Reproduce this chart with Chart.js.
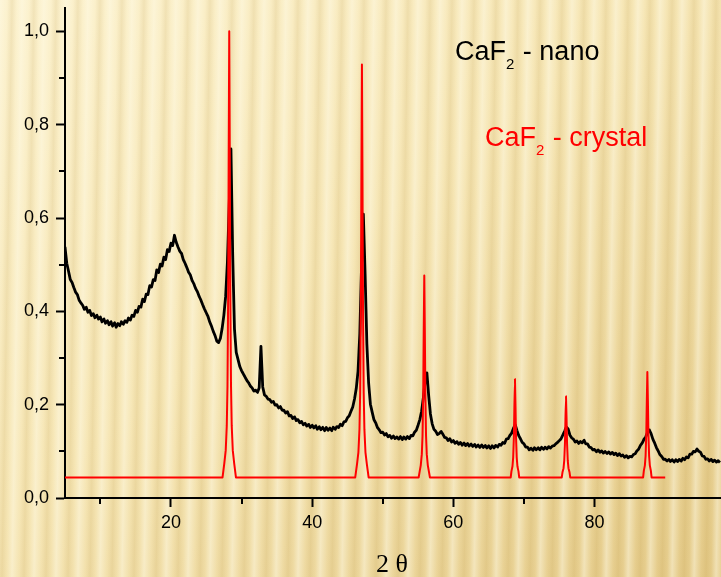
<!DOCTYPE html>
<html>
<head>
<meta charset="utf-8">
<title>CaF2 XRD</title>
<script src="https://cdn.jsdelivr.net/npm/chart.js@4.4.1/dist/chart.umd.min.js"></script>
<style>
    html, body {
        margin: 0;
        padding: 0;
        overflow: hidden;
    }
    #plot {
        position: relative;
        width: 721px;
        height: 577px;
        background:
            repeating-linear-gradient(91deg,
                rgba(255, 251, 232, 0.45) 0px,
                rgba(255, 251, 232, 0.0) 7px,
                rgba(170, 128, 35, 0.12) 12px,
                rgba(255, 251, 232, 0.0) 17px,
                rgba(255, 251, 232, 0.45) 22px),
            linear-gradient(to bottom right, #fcf2cf 0%, #f6e6b5 45%, #e4ca88 100%);
    }
    #plot canvas {
        position: absolute;
        left: 0;
        top: 0;
    }
    .label {
        position: absolute;
        font-family: Arial, "Liberation Sans", sans-serif;
        font-size: 27px;
        line-height: 1;
        white-space: nowrap;
    }
    .label sub {
        font-size: 15px;
        vertical-align: baseline;
        position: relative;
        top: 9px;
        margin-right: 1px;
    }
    #axis-title {
        position: absolute;
        left: 376px;
        top: 551px;
        font-family: "Liberation Serif", "Times New Roman", serif;
        font-size: 26px;
        line-height: 1;
        color: #000;
    }
</style>
</head>
<body>
<div id="plot">
    <canvas id="xrd" width="721" height="577"></canvas>
    <div class="label" style="left:455px; top:38px; color:#000;">CaF<sub>2</sub> - nano</div>
    <div class="label" style="left:485px; top:124px; color:#ff0000;">CaF<sub>2</sub> - crystal</div>
    <div id="axis-title">2 &theta;</div>
</div>
<script>
// nanocrystalline CaF2, measured on a 0.25 deg 2-theta grid starting at 5 deg
const nanoThetaStart = 5;
const nanoThetaStep = 0.25;
const nanoIntensity = [
    0.538, 0.503, 0.486, 0.468,   // 5
    0.462, 0.451, 0.441, 0.436,
    0.424, 0.418, 0.413, 0.404,
    0.409, 0.398, 0.402, 0.391,
    0.395, 0.386, 0.392, 0.383,
    0.388, 0.377, 0.384, 0.374,   // 10
    0.380, 0.371, 0.378, 0.368,
    0.376, 0.366, 0.374, 0.369,
    0.378, 0.372, 0.380, 0.376,
    0.386, 0.381, 0.392, 0.389,
    0.402, 0.398, 0.411, 0.409,   // 15
    0.426, 0.421, 0.437, 0.436,
    0.455, 0.452, 0.468, 0.466,
    0.489, 0.483, 0.501, 0.497,
    0.516, 0.511, 0.532, 0.528,
    0.546, 0.541, 0.563, 0.548,   // 20
    0.538, 0.529, 0.524, 0.511,
    0.503, 0.494, 0.484, 0.478,
    0.466, 0.459, 0.449, 0.442,
    0.432, 0.424, 0.414, 0.405,
    0.397, 0.389, 0.377, 0.368,   // 25
    0.357, 0.348, 0.336, 0.333,
    0.342, 0.363, 0.392, 0.432,
    0.505, 0.625, 0.748, 0.520,
    0.362, 0.312, 0.297, 0.282,
    0.273, 0.266, 0.259, 0.252,   // 30
    0.247, 0.240, 0.236, 0.229,
    0.231, 0.226, 0.236, 0.325,
    0.238, 0.221, 0.218, 0.212,
    0.211, 0.205, 0.207, 0.199,
    0.200, 0.193, 0.196, 0.188,   // 35
    0.188, 0.182, 0.185, 0.176,
    0.177, 0.170, 0.174, 0.166,
    0.168, 0.161, 0.164, 0.157,
    0.160, 0.154, 0.158, 0.151,
    0.156, 0.150, 0.155, 0.147,   // 40
    0.153, 0.146, 0.152, 0.144,
    0.151, 0.145, 0.150, 0.144,
    0.152, 0.147, 0.153, 0.151,
    0.158, 0.155, 0.163, 0.164,
    0.172, 0.176, 0.186, 0.195,   // 45
    0.212, 0.235, 0.272, 0.352,
    0.500, 0.608, 0.480, 0.330,
    0.246, 0.201, 0.184, 0.168,
    0.161, 0.151, 0.146, 0.140,
    0.141, 0.135, 0.138, 0.131,   // 50
    0.134, 0.128, 0.133, 0.127,
    0.131, 0.126, 0.132, 0.125,
    0.131, 0.126, 0.132, 0.127,
    0.134, 0.133, 0.141, 0.145,
    0.156, 0.168, 0.186, 0.215,   // 55
    0.250, 0.268, 0.220, 0.180,
    0.159, 0.147, 0.143, 0.136,
    0.138, 0.143, 0.137, 0.130,
    0.129, 0.123, 0.127, 0.120,
    0.123, 0.117, 0.121, 0.115,   // 60
    0.119, 0.113, 0.118, 0.112,
    0.117, 0.111, 0.116, 0.110,
    0.115, 0.109, 0.114, 0.108,
    0.114, 0.108, 0.113, 0.107,
    0.112, 0.106, 0.112, 0.107,   // 65
    0.113, 0.109, 0.115, 0.113,
    0.119, 0.117, 0.126, 0.127,
    0.134, 0.139, 0.149, 0.157,
    0.145, 0.134, 0.127, 0.119,
    0.116, 0.109, 0.109, 0.103,   // 70
    0.107, 0.102, 0.108, 0.103,
    0.108, 0.103, 0.109, 0.104,
    0.109, 0.105, 0.110, 0.107,
    0.111, 0.112, 0.116, 0.119,
    0.123, 0.127, 0.135, 0.143,   // 75
    0.152, 0.148, 0.135, 0.129,
    0.126, 0.120, 0.122, 0.117,
    0.121, 0.118, 0.124, 0.116,
    0.116, 0.109, 0.108, 0.103,
    0.104, 0.099, 0.103, 0.098,   // 80
    0.101, 0.096, 0.100, 0.095,
    0.099, 0.094, 0.098, 0.093,
    0.096, 0.091, 0.095, 0.090,
    0.092, 0.087, 0.091, 0.086,
    0.089, 0.088, 0.093, 0.095,   // 85
    0.101, 0.105, 0.113, 0.118,
    0.126, 0.131, 0.141, 0.146,
    0.138, 0.126, 0.118, 0.108,
    0.101, 0.093, 0.089, 0.083,
    0.083, 0.079, 0.083, 0.078,   // 90
    0.082, 0.077, 0.082, 0.078,
    0.083, 0.079, 0.085, 0.082,
    0.088, 0.086, 0.094, 0.094,
    0.100, 0.099, 0.105, 0.100,
    0.098, 0.090, 0.089, 0.083,   // 95
    0.084, 0.079, 0.083, 0.078,
    0.081, 0.077, 0.080, 0.076
];

// reference pattern of crystalline CaF2 (fluorite reflections)
const crystalTheta = [
    5.00,
    27.31, 27.56, 27.76, 27.91, 28.01, 28.11, 28.18, 28.26, 28.34, 28.41, 28.51, 28.61, 28.76, 28.96, 29.21,
    46.10, 46.35, 46.55, 46.70, 46.80, 46.90, 46.97, 47.05, 47.13, 47.20, 47.30, 47.40, 47.55, 47.75, 48.00,
    55.08, 55.38, 55.53, 55.63, 55.73, 55.80, 55.88, 55.96, 56.03, 56.13, 56.23, 56.38, 56.68,
    68.12, 68.22, 68.37, 68.47, 68.57, 68.64, 68.72, 68.80, 68.87, 68.97, 69.07, 69.22, 69.32,
    75.35, 75.45, 75.60, 75.70, 75.80, 75.87, 75.95, 76.03, 76.10, 76.20, 76.30, 76.45, 76.55,
    86.87, 86.97, 87.12, 87.22, 87.32, 87.39, 87.47, 87.55, 87.62, 87.72, 87.82, 87.97, 88.07,
    90.00
];
const crystalIntensity = [
    0.044,
    0.044, 0.074, 0.102, 0.155, 0.240, 0.444, 0.728, 1.000, 0.728, 0.444, 0.240, 0.155, 0.102, 0.074, 0.044,
    0.044, 0.072, 0.098, 0.147, 0.225, 0.414, 0.678, 0.929, 0.678, 0.414, 0.225, 0.147, 0.098, 0.072, 0.044,
    0.044, 0.070, 0.094, 0.133, 0.225, 0.354, 0.477, 0.354, 0.225, 0.133, 0.094, 0.070, 0.044,
    0.044, 0.057, 0.068, 0.087, 0.132, 0.195, 0.255, 0.195, 0.132, 0.087, 0.068, 0.057, 0.044,
    0.044, 0.055, 0.064, 0.080, 0.117, 0.169, 0.218, 0.169, 0.117, 0.080, 0.064, 0.055, 0.044,
    0.044, 0.058, 0.070, 0.090, 0.138, 0.206, 0.270, 0.206, 0.138, 0.090, 0.070, 0.058, 0.044,
    0.044
];

// axis ranges
const thetaMin = 5;
const thetaMax = 97.9;
const intensityMin = 0;
const intensityMax = 1.05;

const nanoPoints = nanoIntensity.map((y, i) => ({ x: nanoThetaStart + i * nanoThetaStep, y: y }));
const crystalPoints = crystalTheta.map((x, i) => ({ x: x, y: crystalIntensity[i] }));

function isMajorX(v) {
    return Math.round(v) % 20 === 0;
}

function isMajorY(v) {
    return Math.round(v * 10) % 2 === 0;
}

/**
 * Short minor tick marks (Chart.js only draws one tick length per axis)
 */
const minorTicks = {
    id: 'minorTicks',
    afterDraw(chart) {
        let ctx = chart.ctx;
        let xs = chart.scales.x;
        let ys = chart.scales.y;
        ctx.save();
        ctx.strokeStyle = '#000';
        ctx.lineWidth = 2;
        ctx.beginPath();
        xs.ticks.forEach(t => {
            if (!isMajorX(t.value)) {
                let px = Math.round(xs.getPixelForValue(t.value));
                ctx.moveTo(px, chart.chartArea.bottom);
                ctx.lineTo(px, chart.chartArea.bottom + 6);
            }
        });
        ys.ticks.forEach(t => {
            if (!isMajorY(t.value)) {
                let py = Math.round(ys.getPixelForValue(t.value));
                ctx.moveTo(chart.chartArea.left - 6, py);
                ctx.lineTo(chart.chartArea.left, py);
            }
        });
        ctx.stroke();
        ctx.restore();
    }
};

const tickFont = { family: 'Arial, "Liberation Sans", sans-serif', size: 18 };

// a tiny tension keeps the segments straight but avoids the pixel-merging fast path,
// which mangles the narrow crystal peaks
const straight = 0.0001;

new Chart(document.getElementById('xrd').getContext('2d'), {
    type: 'line',
    data: {
        datasets: [
            {
                label: 'CaF2 - crystal',
                data: crystalPoints,
                borderColor: '#ff0000',
                borderWidth: 2,
                borderJoinStyle: 'round',
                pointRadius: 0,
                tension: straight
            },
            {
                label: 'CaF2 - nano',
                data: nanoPoints,
                borderColor: '#000000',
                borderWidth: 2.8,
                borderJoinStyle: 'round',
                pointRadius: 0,
                tension: straight
            }
        ]
    },
    options: {
        responsive: false,
        animation: false,
        devicePixelRatio: 1,
        layout: { padding: { top: 8, right: 0, bottom: 0, left: 0 } },
        plugins: {
            legend: { display: false },
            tooltip: { enabled: false }
        },
        scales: {
            x: {
                type: 'linear',
                min: thetaMin,
                max: thetaMax,
                ticks: {
                    stepSize: 10,
                    autoSkip: false,
                    maxRotation: 0,
                    padding: 5,
                    color: '#000',
                    font: tickFont,
                    callback: v => isMajorX(v) ? String(v) : ''
                },
                grid: {
                    display: true,
                    drawOnChartArea: false,
                    drawTicks: true,
                    tickLength: 9,
                    tickWidth: 2,
                    tickColor: c => (c.tick && isMajorX(c.tick.value)) ? '#000' : 'rgba(0,0,0,0)'
                },
                border: { display: true, color: '#000', width: 2 },
                afterBuildTicks: s => {
                    s.ticks = s.ticks.filter(t => t.value >= 10 && t.value <= 90 && t.value % 10 === 0);
                },
                afterFit: s => {
                    s.height = 79;
                    s.paddingLeft = 0;
                    s.paddingRight = 0;
                }
            },
            y: {
                type: 'linear',
                min: intensityMin,
                max: intensityMax,
                ticks: {
                    stepSize: 0.1,
                    autoSkip: false,
                    padding: 7,
                    color: '#000',
                    font: tickFont,
                    callback: v => isMajorY(v) ? v.toFixed(1).replace('.', ',') : ''
                },
                grid: {
                    display: true,
                    drawOnChartArea: false,
                    drawTicks: true,
                    tickLength: 9,
                    tickWidth: 2,
                    tickColor: c => (c.tick && isMajorY(c.tick.value)) ? '#000' : 'rgba(0,0,0,0)'
                },
                border: { display: true, color: '#000', width: 2 },
                afterBuildTicks: s => {
                    s.ticks = s.ticks.filter(t => t.value <= 1.0001);
                },
                afterFit: s => {
                    s.width = 65;
                    s.paddingTop = 0;
                    s.paddingBottom = 0;
                }
            }
        }
    },
    plugins: [minorTicks]
});
</script>
</body>
</html>
